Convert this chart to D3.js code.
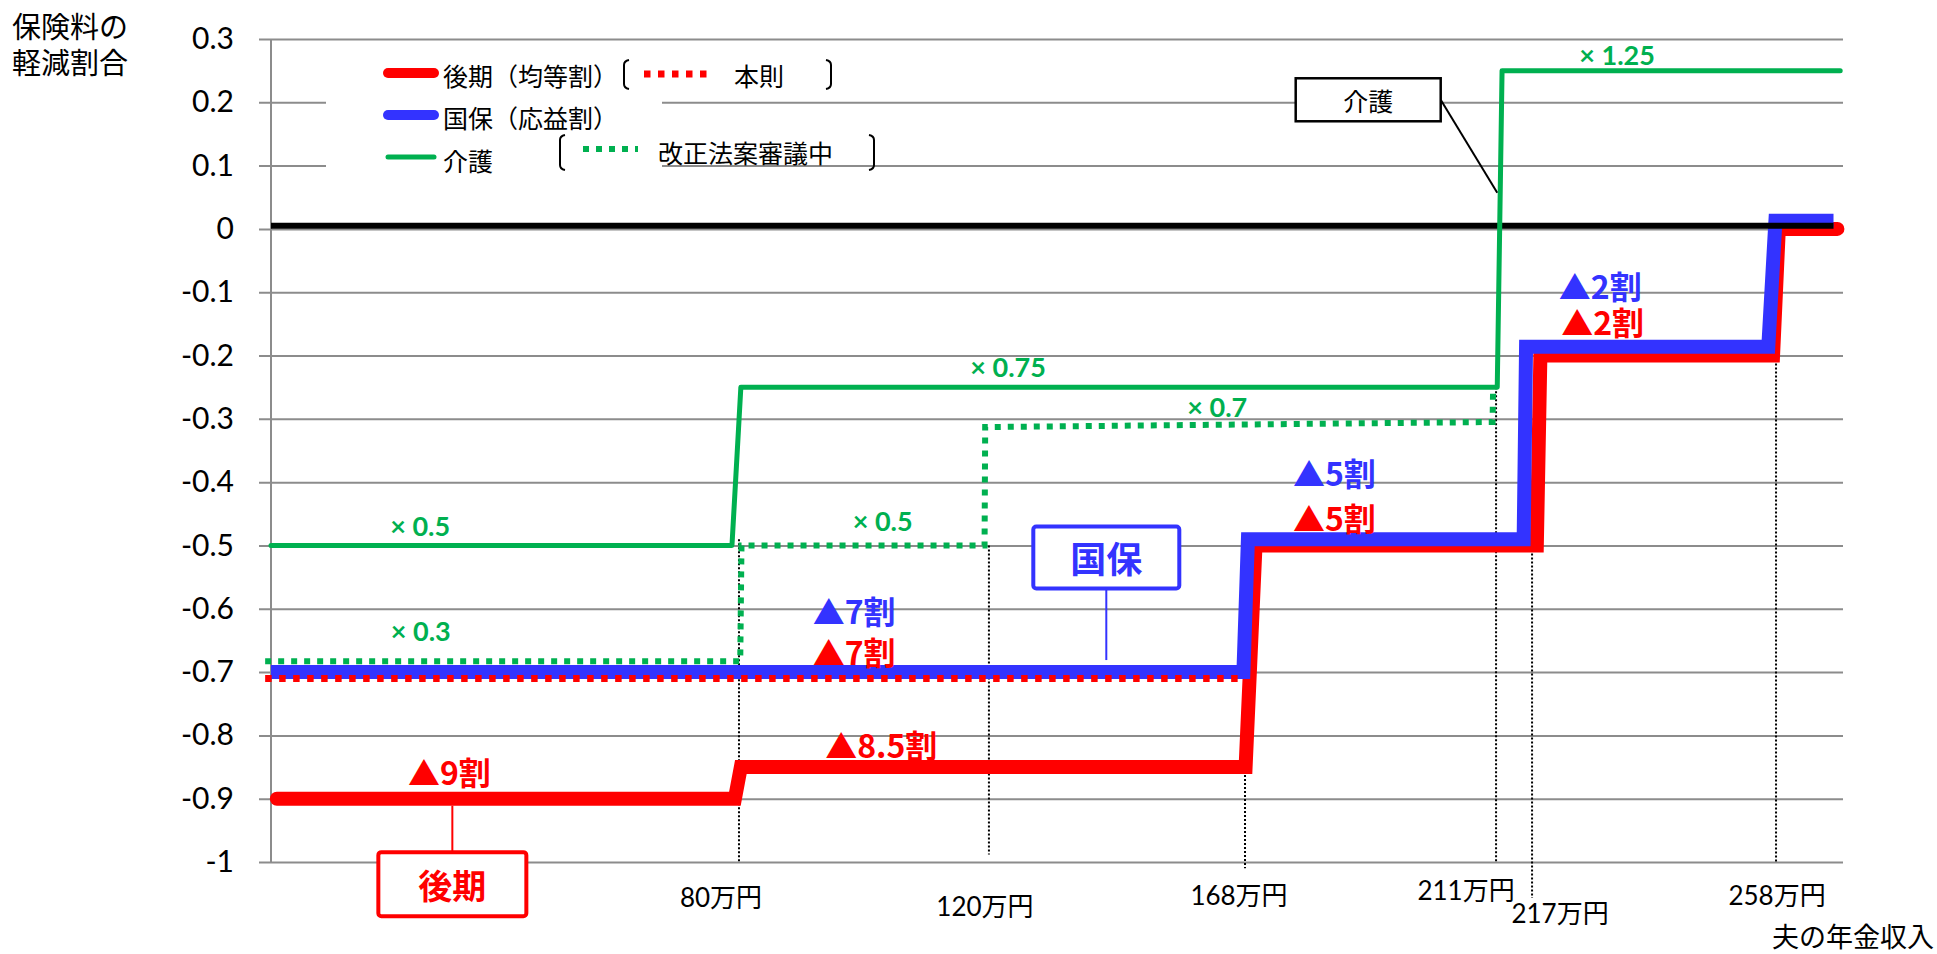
<!DOCTYPE html>
<html><head><meta charset="utf-8">
<script src="https://cdn.jsdelivr.net/npm/d3@7"></script>
<style>
html,body{margin:0;padding:0;background:#fff;}
svg{display:block;}
</style></head>
<body>
<svg id="chart" width="1937" height="954"></svg>
<script>
// ---------------- data ----------------
const yTicks = [0.3,0.2,0.1,0,-0.1,-0.2,-0.3,-0.4,-0.5,-0.6,-0.7,-0.8,-0.9,-1];
const yTickLabels = ["0.3","0.2","0.1","0","-0.1","-0.2","-0.3","-0.4","-0.5","-0.6","-0.7","-0.8","-0.9","-1"];
const incomeBreaks = [0,80,120,168,211,217,258,270];   // 万円 (axis not linear)
const xLabels = ["80万円","120万円","168万円","211万円","217万円","258万円"];
const xLabelIncome = [80,120,168,211,217,258];
const seriesNames = ["後期（均等割）","国保（応益割）","介護"];
const subNames = ["本則","改正法案審議中"];

// [income(万円), reduction ratio]
const kouki   = [[1,-0.9],[79.3,-0.9],[80.3,-0.85],[168.1,-0.85],[169.8,-0.5],[217.8,-0.5],[218.4,-0.2],[257.5,-0.2],[258.5,0],[269,0]];
const kokuho  = [[0,-0.7],[167.7,-0.7],[168.5,-0.49],[215.6,-0.49],[216,-0.186],[256.7,-0.186],[257.9,0.013],[268.3,0.013]];
const kaigo   = [[0,-0.5],[78.8,-0.5],[80.3,-0.25],[211.2,-0.25],[212,0.25],[269.5,0.25]];
const honsoku = [[-1,-0.71],[167,-0.71]];
const kaisei  = [[-1,-0.683],[80.2,-0.683],[80.4,-0.5],[119.3,-0.5],[119.4,-0.313],[210.4,-0.305],[210.5,-0.25]];
const zeroLine = [[0,0.005],[268.3,0.005]];
const guides = [[80,-0.49,-1],[120,-0.5,-0.988],[168,-0.85,-1.01],[211,-0.25,-1],[217,-0.5,-1.057],[258,-0.2,-1]];

const kaigoRates = ["× 1.25","× 0.75","× 0.7","× 0.5","× 0.3","× 0.5"];
const kaigoRatePos = [[231.3,0.276],[123.6,-0.218],[162.8,-0.28],[25.5,-0.469],[25.6,-0.635],[103,-0.461]];

const cutLabels = ["▲9割","▲8.5割","▲7割","▲7割","▲5割","▲5割","▲2割","▲2割"];
const cutSeries = ["kouki","kouki","kokuho","kouki","kokuho","kouki","kokuho","kouki"];
const cutPos = [[23.4,-0.856],[93.8,-0.814],[91.8,-0.602],[91.8,-0.667],[176.2,-0.384],[176.2,-0.455],[221.5,-0.088],[221.9,-0.145]];

const callouts = [
  {text:"介護", series:"kaigo_box", at:[189.1,0.204], to:[211.2,0.057]},
  {text:"国保", series:"kokuho", at:[142,-0.519], to:[142,-0.681]},
  {text:"後期", series:"kouki", at:[31,-1.035], to:[31,-0.911]}
];

// ---------------- layout / styles ----------------
const RED="#ff0000", BLUE="#3333ff", GREEN="#00b050", GRID="#8c8c8c";
const JP="'Noto Sans CJK JP','Noto Sans',sans-serif";
const NUM="Lato,'Noto Sans CJK JP',sans-serif";
const left=271, right=1843;
const xFrac=[0,0.2977,0.4567,0.6196,0.7793,0.8022,0.9574,1];

const svg=d3.select("#chart");
const x=d3.scaleLinear().domain(incomeBreaks).range(xFrac.map(f=>left+f*(right-left)));
const y=d3.scaleLinear().domain([-1,0.3]).range([862,39]);
const line=d3.line().x(d=>x(d[0])).y(d=>y(d[1]));

// gridlines + y axis
const yAxis=d3.axisLeft(y).tickValues(yTicks).tickSize(-(right-left)).tickFormat((d,i)=>yTickLabels[i]).tickPadding(37);
const ga=svg.append("g").attr("transform",`translate(${left},0)`).call(yAxis);
ga.select(".domain").remove();
ga.selectAll(".tick line").attr("x1",-12).attr("stroke",GRID).attr("stroke-width",2);
ga.selectAll(".tick text").attr("font-family",NUM).attr("font-size",30).attr("fill","#000");
svg.append("line").attr("x1",left).attr("x2",left).attr("y1",y(0.3)).attr("y2",y(-1)).attr("stroke",GRID).attr("stroke-width",2);

// legend background (hides gridlines)
svg.append("rect").attr("x",326).attr("y",52).attr("width",336).attr("height",128).attr("fill","#fff");

// guide lines
svg.append("g").selectAll("line").data(guides).join("line")
  .attr("x1",d=>x(d[0])).attr("x2",d=>x(d[0])).attr("y1",d=>y(d[1])).attr("y2",d=>y(d[2]))
  .attr("stroke","#000").attr("stroke-width",2).attr("stroke-dasharray","2,2");

// series
svg.append("path").datum(kouki).attr("d",line).attr("fill","none").attr("stroke",RED).attr("stroke-width",14).attr("stroke-linecap","round").attr("stroke-linejoin","miter");
svg.append("path").datum(kokuho).attr("d",line).attr("fill","none").attr("stroke",BLUE).attr("stroke-width",14).attr("stroke-linecap","butt").attr("stroke-linejoin","miter");
svg.append("path").datum(zeroLine).attr("d",line).attr("fill","none").attr("stroke","#000").attr("stroke-width",6);
svg.append("path").datum(honsoku).attr("d",line).attr("fill","none").attr("stroke",RED).attr("stroke-width",7).attr("stroke-dasharray","6.5,7.5");
svg.append("path").datum(kaigo).attr("d",line).attr("fill","none").attr("stroke",GREEN).attr("stroke-width",5).attr("stroke-linecap","round").attr("stroke-linejoin","round");
svg.append("path").datum(kaisei).attr("d",line).attr("fill","none").attr("stroke",GREEN).attr("stroke-width",6).attr("stroke-dasharray","6,7");

// multiplier labels
svg.append("g").selectAll("text").data(kaigoRates).join("text")
  .attr("x",(d,i)=>x(kaigoRatePos[i][0])).attr("y",(d,i)=>y(kaigoRatePos[i][1]))
  .attr("text-anchor","middle").attr("dominant-baseline","central")
  .attr("font-family",NUM).attr("font-weight",700).attr("font-size",27).attr("fill",GREEN).text(d=>d);

// reduction labels
svg.append("g").selectAll("text").data(cutLabels).join("text")
  .attr("x",(d,i)=>x(cutPos[i][0])).attr("y",(d,i)=>y(cutPos[i][1]))
  .attr("dominant-baseline","central")
  .attr("font-family",JP).attr("font-weight",700).attr("font-size",32)
  .attr("fill",(d,i)=>cutSeries[i]==="kouki"?RED:BLUE).text(d=>d);

// callouts
const cStyle={kaigo_box:{c:"#000",w:145,h:43,fs:25,fw:400,sw:2.5,lw:2},kokuho:{c:BLUE,w:146,h:62,fs:36,fw:700,sw:4,lw:2},kouki:{c:RED,w:148,h:64,fs:34,fw:700,sw:4,lw:2}};
callouts.forEach(co=>{
  const s=cStyle[co.series]; const cx=x(co.at[0]), cy=y(co.at[1]);
  let sx, sy;
  if(co.series==="kaigo_box"){ sx=cx+s.w/2; sy=cy; }
  else { sx=cx; sy = y(co.to[1])<cy ? cy-s.h/2 : cy+s.h/2; }
  svg.append("line").attr("x1",sx).attr("y1",sy).attr("x2",x(co.to[0])).attr("y2",y(co.to[1])).attr("stroke",s.c).attr("stroke-width",s.lw);
  svg.append("rect").attr("x",cx-s.w/2).attr("y",cy-s.h/2).attr("width",s.w).attr("height",s.h)
    .attr("rx",co.series==="kaigo_box"?0:3).attr("fill","#fff").attr("stroke",s.c).attr("stroke-width",s.sw);
  svg.append("text").attr("x",cx).attr("y",cy).attr("text-anchor","middle").attr("dominant-baseline","central")
    .attr("font-family",JP).attr("font-weight",s.fw).attr("font-size",s.fs).attr("fill",s.c).text(co.text);
});

// x labels
const xlOff=[[-18,35],[-4,44],[-6,33],[-30,28],[28,51],[1,33]];
svg.append("g").selectAll("text").data(xLabels).join("text")
  .attr("x",(d,i)=>x(xLabelIncome[i])+xlOff[i][0]).attr("y",(d,i)=>y(-1)+xlOff[i][1])
  .attr("text-anchor","middle").attr("dominant-baseline","central")
  .attr("font-family",NUM).attr("font-size",26).attr("fill","#000").text(d=>d);
svg.append("text").attr("x",1934).attr("y",935).attr("text-anchor","end").attr("dominant-baseline","central")
  .attr("font-family",JP).attr("font-size",27).attr("fill","#000").text("夫の年金収入");

// y title
svg.append("text").attr("x",12).attr("y",25).attr("dominant-baseline","central").attr("font-family",JP).attr("font-size",29).attr("fill","#000").text("保険料の");
svg.append("text").attr("x",12).attr("y",61).attr("dominant-baseline","central").attr("font-family",JP).attr("font-size",29).attr("fill","#000").text("軽減割合");

// legend
const legY=[73,115,157], legC=[RED,BLUE,GREEN], legW=[10,10,5];
const legTY=[75,117,160];
const lg=svg.append("g");
seriesNames.forEach((n,i)=>{
  lg.append("line").attr("x1",388).attr("x2",434).attr("y1",legY[i]).attr("y2",legY[i]).attr("stroke",legC[i]).attr("stroke-width",legW[i]).attr("stroke-linecap","round");
  lg.append("text").attr("x",443).attr("y",legTY[i]).attr("dominant-baseline","central").attr("font-family",JP).attr("font-size",25).attr("fill","#000").text(n);
});
function bracket(x0,y0,y1,dir){
  const c=dir*5;
  return `M${x0+c},${y0} Q${x0},${y0+1} ${x0},${y0+5} L${x0},${y1-5} Q${x0},${y1-1} ${x0+c},${y1}`;
}
lg.append("path").attr("d",bracket(624,60,89,1)).attr("fill","none").attr("stroke","#000").attr("stroke-width",2);
lg.append("path").attr("d",bracket(831,60,89,-1)).attr("fill","none").attr("stroke","#000").attr("stroke-width",2);
lg.append("line").attr("x1",644).attr("x2",710).attr("y1",74).attr("y2",74).attr("stroke",RED).attr("stroke-width",7).attr("stroke-dasharray","6.5,7.5");
lg.append("text").attr("x",734).attr("y",75).attr("dominant-baseline","central").attr("font-family",JP).attr("font-size",25).attr("fill","#000").text(subNames[0]);
lg.append("path").attr("d",bracket(560,135,170,1)).attr("fill","none").attr("stroke","#000").attr("stroke-width",2);
lg.append("path").attr("d",bracket(874,135,170,-1)).attr("fill","none").attr("stroke","#000").attr("stroke-width",2);
lg.append("line").attr("x1",583).attr("x2",638).attr("y1",149).attr("y2",149).attr("stroke",GREEN).attr("stroke-width",6).attr("stroke-dasharray","6,7");
lg.append("text").attr("x",658).attr("y",152).attr("dominant-baseline","central").attr("font-family",JP).attr("font-size",25).attr("fill","#000").text(subNames[1]);
</script>
</body></html>
